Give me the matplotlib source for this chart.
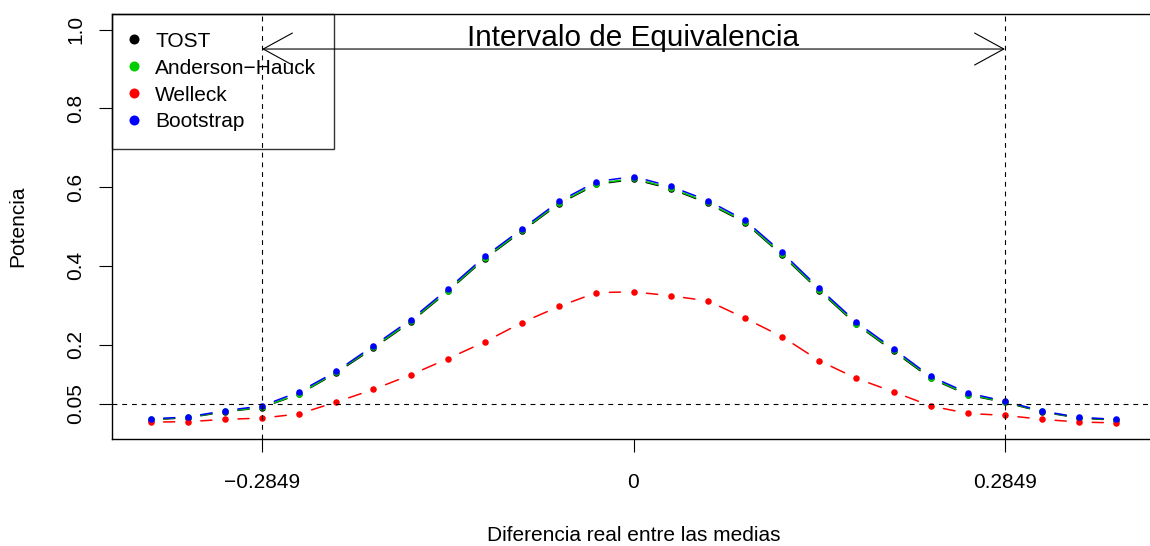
import matplotlib
matplotlib.use('Agg')
import matplotlib.pyplot as plt
from matplotlib.patches import FancyArrowPatch
from matplotlib.lines import Line2D

plt.rcParams['font.family'] = ['Liberation Sans', 'DejaVu Sans']
plt.rcParams['lines.scale_dashes'] = False

# diferencia real entre las medias (paso = 0.2849 / 10)
diferencia = [-0.37037, -0.34188, -0.31339, -0.2849, -0.25641, -0.22792, -0.19943,
              -0.17094, -0.14245, -0.11396, -0.08547, -0.05698, -0.02849, 0.0,
              0.02849, 0.05698, 0.08547, 0.11396, 0.14245, 0.17094, 0.19943,
              0.22792, 0.25641, 0.2849, 0.31339, 0.34188, 0.37037]

tost = [0.009, 0.014, 0.029, 0.040, 0.074, 0.128, 0.191, 0.257, 0.335, 0.418, 0.488,
        0.558, 0.607, 0.620, 0.596, 0.559, 0.510, 0.427, 0.337, 0.251, 0.183, 0.114,
        0.072, 0.053, 0.029, 0.013, 0.008]
anderson = [0.010, 0.015, 0.030, 0.041, 0.075, 0.130, 0.193, 0.259, 0.337, 0.420, 0.490,
            0.560, 0.609, 0.622, 0.598, 0.561, 0.512, 0.429, 0.339, 0.253, 0.185, 0.116,
            0.073, 0.054, 0.030, 0.014, 0.009]
welleck = [0.003, 0.004, 0.010, 0.013, 0.024, 0.054, 0.086, 0.123, 0.164, 0.207, 0.256,
           0.297, 0.332, 0.334, 0.324, 0.311, 0.267, 0.220, 0.159, 0.114, 0.080, 0.044,
           0.025, 0.020, 0.010, 0.003, 0.001]
bootstrap = [0.011, 0.016, 0.032, 0.044, 0.080, 0.132, 0.197, 0.263, 0.341, 0.424, 0.494,
             0.564, 0.614, 0.627, 0.602, 0.566, 0.516, 0.434, 0.343, 0.257, 0.189, 0.119,
             0.077, 0.056, 0.031, 0.015, 0.010]

series = [('TOST', tost, 'black'),
          ('Anderson\u2212Hauck', anderson, '#00CD00'),
          ('Welleck', welleck, '#FF0000'),
          ('Bootstrap', bootstrap, '#0000FF')]

limite = 0.2849
x_ticks = [-limite, 0, limite]
x_ticklabels = ['\u22120.2849', '0', '0.2849']
y_ticks = [0.05, 0.2, 0.4, 0.6, 0.8, 1.0]
y_ticklabels = ['0.05', '0.2', '0.4', '0.6', '0.8', '1.0']

fig = plt.figure(figsize=(11.5, 5.46), dpi=100)
ax = fig.add_axes([112/1150, 1 - 439/546, 1043/1150, 425/546])
ax.set_xlim(-0.4, 0.4)
ax.set_ylim(-0.04, 1.04)

# tipo "b" de R: puntos y segmentos separados
for nombre, valores, color in series:
    for i in range(len(diferencia) - 1):
        seg = FancyArrowPatch((diferencia[i], valores[i]),
                              (diferencia[i + 1], valores[i + 1]),
                              arrowstyle='-', shrinkA=9.4, shrinkB=9.4,
                              color=color, lw=1.1)
        ax.add_patch(seg)
    ax.plot(diferencia, valores, 'o', color=color, ms=4.7, mew=0, zorder=3)

handles = [Line2D([], [], marker='o', ls='none', color=c, ms=7.2, mew=0)
           for _, _, c in series]
leg = ax.legend(handles, [n for n, _, _ in series], loc='upper left',
                bbox_to_anchor=(0, 1), borderaxespad=0, fontsize=15,
                fancybox=False, facecolor='none', edgecolor='black',
                borderpad=0.85, labelspacing=0.38, handlelength=0.42,
                handletextpad=0.8)
leg.get_frame().set_linewidth(1.0)
leg.set_zorder(2.5)

for v in [-limite, limite]:
    ax.axvline(v, color='black', lw=0.8, ls=(0, (3.5, 3.5)), zorder=4)
ax.axhline(0.05, color='black', lw=0.8, ls=(0, (3.5, 3.5)), zorder=4)

ax.annotate('', xy=(-limite, 0.951), xytext=(limite, 0.951),
            arrowprops=dict(arrowstyle='<->,head_length=21,head_width=11.5',
                            mutation_scale=1, shrinkA=0, shrinkB=0,
                            color='black', lw=0.8))
ax.text(0, 0.959, 'Intervalo de Equivalencia', ha='center', va='baseline',
        fontsize=21.4)

ax.set_xticks(x_ticks)
ax.set_xticklabels(x_ticklabels)
ax.set_yticks(y_ticks)
ax.set_yticklabels(y_ticklabels)
ax.tick_params(axis='both', length=9.4, width=0.8, labelsize=15)
ax.tick_params(axis='x', pad=15)
ax.tick_params(axis='y', pad=10, labelrotation=90)
for lab in ax.get_yticklabels():
    lab.set_va('center')
for sp in ax.spines.values():
    sp.set_linewidth(1.0)

ax.set_xlabel('Diferencia real entre las medias', fontsize=15)
ax.xaxis.set_label_coords(0.5, -0.228)
ax.xaxis.label.set_va('center')
ax.set_ylabel('Potencia', fontsize=15)
ax.yaxis.set_label_coords(-0.0901, 0.5)
ax.yaxis.label.set_va('center')

fig.savefig('out.png', dpi=100)
